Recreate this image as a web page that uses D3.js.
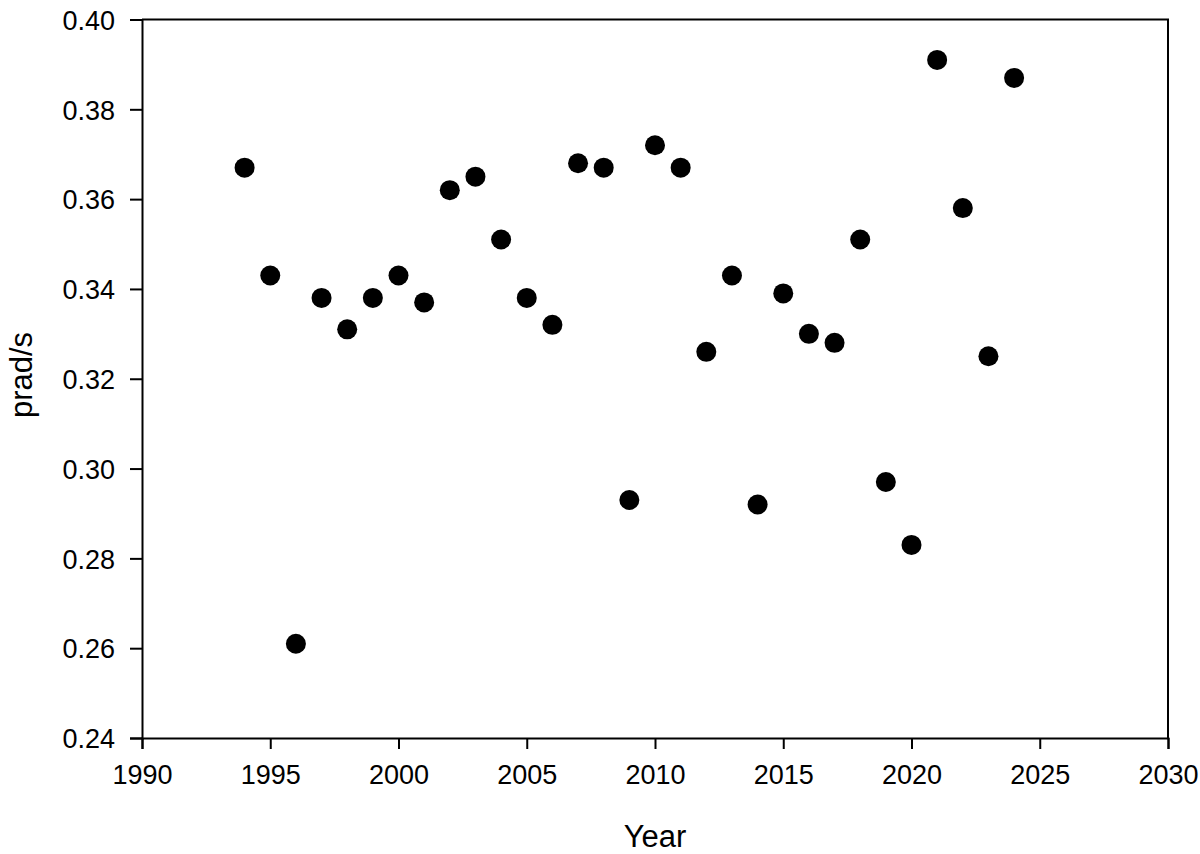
<!DOCTYPE html>
<html>
<head>
<meta charset="utf-8">
<script src="https://cdn.jsdelivr.net/npm/d3@7"></script>
<style>
  html, body { margin: 0; padding: 0; background: #fff; }
  svg { display: block; }
  text { font-family: "Liberation Sans", Arial, sans-serif; fill: #000; }
</style>
</head>
<body>
<svg id="chart" width="1200" height="854"></svg>
<script>
const years = [1994, 1995, 1996, 1997, 1998, 1999, 2000, 2001, 2002, 2003, 2004, 2005, 2006, 2007, 2008, 2009, 2010, 2011, 2012, 2013, 2014, 2015, 2016, 2017, 2018, 2019, 2020, 2021, 2022, 2023, 2024];
const values = [0.367, 0.343, 0.261, 0.338, 0.331, 0.338, 0.343, 0.337, 0.362, 0.365, 0.351, 0.338, 0.332, 0.368, 0.367, 0.293, 0.372, 0.367, 0.326, 0.343, 0.292, 0.339, 0.330, 0.328, 0.351, 0.297, 0.283, 0.391, 0.358, 0.325, 0.387];
const xTicks = [1990, 1995, 2000, 2005, 2010, 2015, 2020, 2025, 2030];
const yTicks = [0.24, 0.26, 0.28, 0.30, 0.32, 0.34, 0.36, 0.38, 0.40];
const xLabel = "Year";
const yLabel = "prad/s";

(function () {
const svg = d3.select("#chart");
const mLeft = 142, mRight = 1168, mTop = 19.5, mBottom = 738;

const x = d3.scaleLinear().domain([1990, 2030]).range([mLeft, mRight]);
const y = d3.scaleLinear().domain([0.24, 0.40]).range([mBottom, mTop]);

// frame (top and right lines)
svg.append("path")
  .attr("d", `M${mLeft},${mTop}H${mRight}V${mBottom}`)
  .attr("fill", "none").attr("stroke", "#000").attr("stroke-width", 2);

const xAxis = svg.append("g")
  .attr("transform", `translate(0,${mBottom})`)
  .call(d3.axisBottom(x).tickValues(xTicks).tickFormat(d3.format("d")).tickSize(11).tickPadding(16));
const yAxis = svg.append("g")
  .attr("transform", `translate(${mLeft},0)`)
  .call(d3.axisLeft(y).tickValues(yTicks).tickFormat(d3.format(".2f")).tickSize(12).tickPadding(15));

[xAxis, yAxis].forEach(g => {
  g.select(".domain").attr("stroke", "#000").attr("stroke-width", 2);
  g.selectAll(".tick line").attr("stroke", "#000").attr("stroke-width", 2);
  g.selectAll(".tick text").attr("font-size", 27).attr("font-family", "Liberation Sans, Arial, sans-serif").attr("fill", "#000");
});
yAxis.selectAll(".tick text").attr("dy", "0.36em");

svg.append("text")
  .attr("x", 655).attr("y", 847)
  .attr("text-anchor", "middle").attr("font-size", 31)
  .text(xLabel);

svg.append("text")
  .attr("transform", `translate(32,${375}) rotate(-90)`)
  .attr("text-anchor", "middle").attr("font-size", 31)
  .text(yLabel);

svg.append("g").selectAll("circle")
  .data(years.map((yr, i) => ({ yr, v: values[i] })))
  .join("circle")
  .attr("cx", d => x(d.yr)).attr("cy", d => y(d.v))
  .attr("r", 10).attr("fill", "#000");
})();
</script>
</body>
</html>
